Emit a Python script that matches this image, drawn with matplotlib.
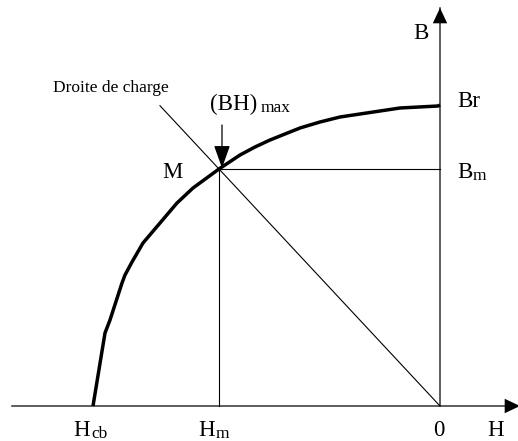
import matplotlib.pyplot as plt
from matplotlib.patches import ArrowStyle

plt.rcParams['font.family'] = ['Liberation Serif', 'DejaVu Serif']

# demagnetisation curve, 2nd quadrant (arbitrary units, origin at H=0, B=0)
H_curve = [-347, -335, -330, -318, -315, -308, -297, -280, -263, -247,
           -221, -200, -185, -170, -155, -140, -120, -100, -80, -60, -40, -2, 0]
B_curve = [0, 73, 86, 123, 131, 144, 163, 183, 203, 218,
           237, 251, 259, 266, 272, 278, 284, 289, 292, 295, 298, 300, 301]

H_cb = -347
H_m, B_m = -221, 237      # working point M
B_r = 301
H_load_start = -280       # where the "droite de charge" begins

H_axis = (-428, 80)
B_axis = (0, 398)

fig = plt.figure(figsize=(5.18, 4.41), dpi=100)
ax = fig.add_axes([0, 0, 1, 1])
ax.set_xlim(-440, 78)
ax.set_ylim(-35, 406)
ax.axis('off')

axis_col = '#333333'

# axes: gray line + black arrow head
for start, end in [((H_axis[0], 0), (H_axis[1], 0)), ((0, B_axis[0]), (0, B_axis[1]))]:
    ax.plot([start[0], end[0]], [start[1], end[1]], color=axis_col, lw=1.1, clip_on=False)
    ax.annotate('', xy=end, xytext=start, annotation_clip=False,
                arrowprops=dict(arrowstyle=ArrowStyle('-|>', head_length=11, head_width=5.2),
                                mutation_scale=1, color='black', lw=0.01,
                                shrinkA=0, shrinkB=0))

# load line through M and origin
slope = B_m / H_m
ax.plot([H_load_start, 0], [slope * H_load_start, 0], color='black', lw=0.8)

# projections of M
ax.plot([H_m, 0], [B_m, B_m], color='black', lw=0.8)
ax.plot([H_m, H_m], [B_m, 0], color='black', lw=0.8)

# B(H) curve
ax.plot(H_curve, B_curve, color='black', lw=2.5, solid_capstyle='butt',
        solid_joinstyle='round')

# arrow pointing to (BH)max
ax.annotate('', xy=(H_m + 3, B_m + 1), xytext=(H_m + 3, B_m + 44),
            arrowprops=dict(arrowstyle=ArrowStyle('-|>', head_length=14, head_width=5),
                            mutation_scale=1, color='black', lw=0.9,
                            shrinkA=0, shrinkB=0))

fs = 16.5
sub = 12.5
ax.text(-387, 314, 'Droite de charge', fontsize=12.5, ha='left', va='baseline')
ax.text(-230, 296, '(BH)', fontsize=fs, ha='left', va='baseline')
ax.text(-179, 294, 'max', fontsize=sub, ha='left', va='baseline')
ax.text(-278, 228, 'M', fontsize=fs, ha='left', va='baseline')
ax.text(17, 299, 'Br', fontsize=fs, ha='left', va='baseline')
ax.text(17, 228, 'B', fontsize=fs, ha='left', va='baseline')
ax.text(33, 226, 'm', fontsize=sub, ha='left', va='baseline')
ax.text(-27, 367, 'B', fontsize=fs, ha='left', va='baseline')

ax.text(-367, -30, 'H', fontsize=fs, ha='left', va='baseline')
ax.text(-349, -32, 'cb', fontsize=sub, ha='left', va='baseline')
ax.text(-242, -30, 'H', fontsize=fs, ha='left', va='baseline')
ax.text(-224, -32, 'm', fontsize=sub, ha='left', va='baseline')
ax.text(-7, -30, '0', fontsize=fs, ha='left', va='baseline')
ax.text(47, -30, 'H', fontsize=fs, ha='left', va='baseline')

fig.savefig('out.png', dpi=100)
